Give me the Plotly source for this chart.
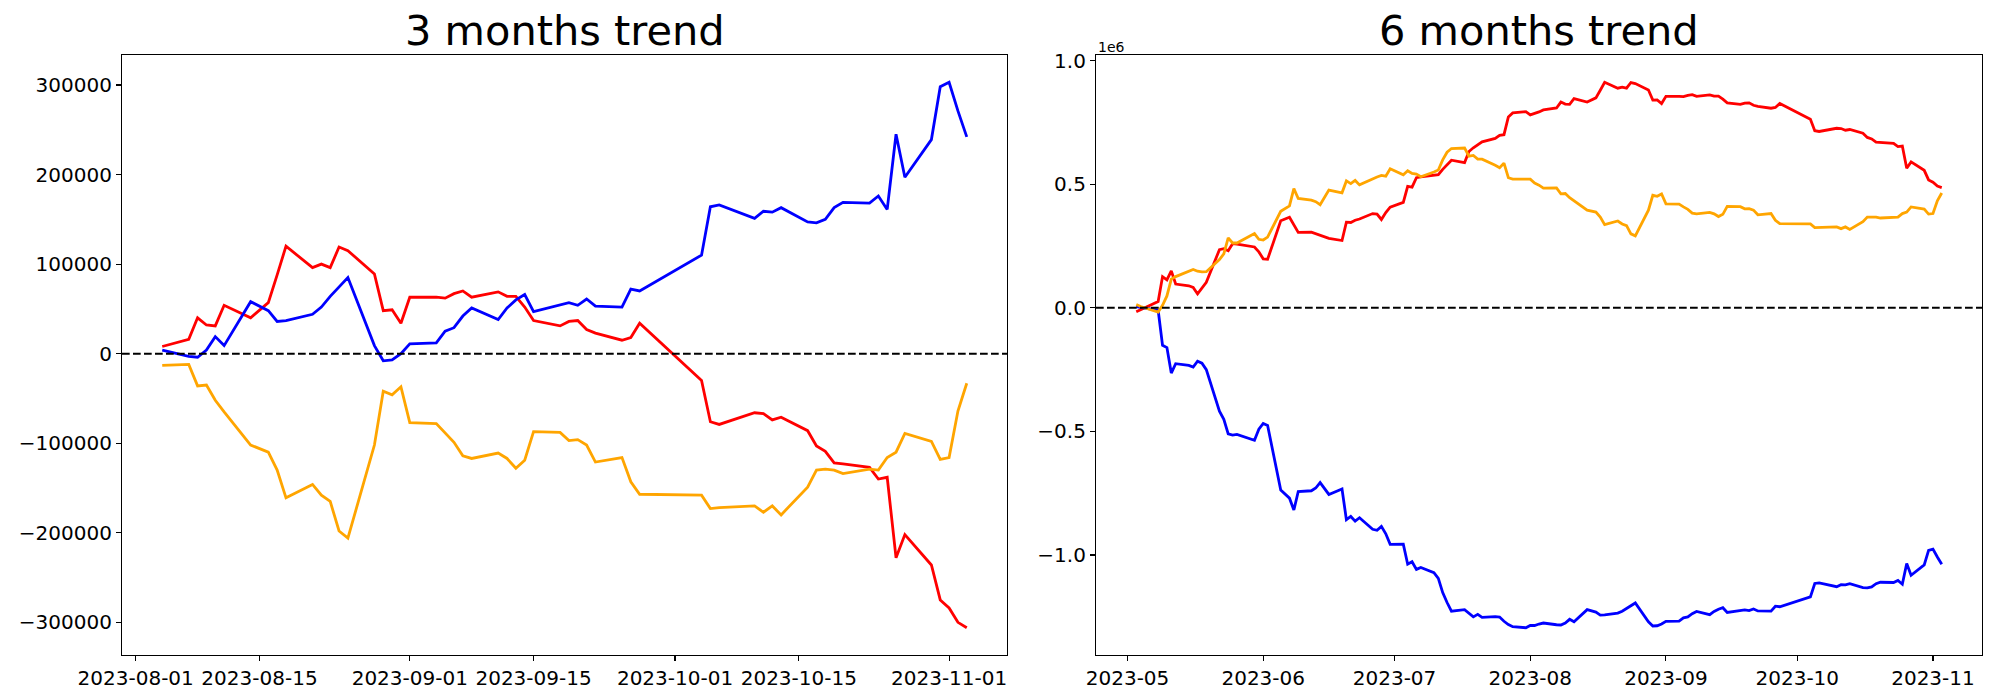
import pandas as pd
import plotly.graph_objects as go

# ---------------- 3 months data ----------------
dates_3m = [
    "2023-08-04", "2023-08-07", "2023-08-08", "2023-08-09", "2023-08-10", "2023-08-11",
    "2023-08-14", "2023-08-16", "2023-08-17", "2023-08-18",
    "2023-08-21", "2023-08-22", "2023-08-23", "2023-08-24", "2023-08-25",
    "2023-08-28", "2023-08-29", "2023-08-30", "2023-08-31", "2023-09-01",
    "2023-09-04", "2023-09-05", "2023-09-06", "2023-09-07", "2023-09-08",
    "2023-09-11", "2023-09-12", "2023-09-13", "2023-09-14", "2023-09-15",
    "2023-09-18", "2023-09-19", "2023-09-20", "2023-09-21", "2023-09-22",
    "2023-09-25", "2023-09-26", "2023-09-27",
    "2023-10-04", "2023-10-05", "2023-10-06",
    "2023-10-10", "2023-10-11", "2023-10-12", "2023-10-13",
    "2023-10-16", "2023-10-17", "2023-10-18", "2023-10-19", "2023-10-20",
    "2023-10-23", "2023-10-24", "2023-10-25", "2023-10-26", "2023-10-27",
    "2023-10-30", "2023-10-31", "2023-11-01", "2023-11-02", "2023-11-03",
]
red_3m = [
    8000, 16000, 40000, 32000, 31000, 54000,
    40000, 57000, 88000, 120000,
    96000, 100000, 96000, 119000, 115000,
    89000, 48000, 49000, 34000, 63000,
    63000, 62000, 67000, 70000, 63000,
    69000, 64000, 64000, 52000, 37000,
    31000, 36000, 37000, 27000, 23000,
    15000, 18000, 34000,
    -30000, -76000, -79000,
    -66000, -67000, -74000, -71000,
    -86000, -103000, -109000, -122000, -123000,
    -127000, -140000, -138000, -228000, -202000,
    -236000, -275000, -284000, -300000, -306000,
]
blue_3m = [
    4000, -3000, -4000, 4000, 19000, 9000,
    58000, 48000, 36000, 37000,
    44000, 52000, 64000, 74000, 85000,
    9000, -8000, -7000, 0, 11000,
    12000, 25000, 29000, 42000, 51000,
    38000, 51000, 60000, 66000, 47000,
    54000, 57000, 54000, 61000, 53000,
    52000, 72000, 70000,
    110000, 164000, 166000,
    151000, 159000, 158000, 163000,
    147000, 146000, 150000, 163000, 169000,
    168000, 176000, 161000, 245000, 197000,
    239000, 298000, 303000, 271000, 242000,
]
orange_3m = [
    -13000, -12000, -36000, -35000, -52000, -65000,
    -102000, -110000, -130000, -161000,
    -146000, -158000, -165000, -198000, -206000,
    -102000, -42000, -46000, -37000, -77000,
    -78000, -89000, -99000, -114000, -117000,
    -111000, -117000, -128000, -119000, -87000,
    -88000, -97000, -96000, -102000, -121000,
    -116000, -143000, -157000,
    -158000, -173000, -172000,
    -170000, -177000, -170000, -180000,
    -149000, -130000, -129000, -130000, -134000,
    -129000, -130000, -116000, -110000, -89000,
    -98000, -118000, -116000, -64000, -33000,
]

# ---------------- 6 months data ----------------
dates_6m = [
    "2023-05-03", "2023-05-04", "2023-05-08", "2023-05-09", "2023-05-10", "2023-05-11", "2023-05-12",
    "2023-05-15", "2023-05-16", "2023-05-17", "2023-05-18", "2023-05-19",
    "2023-05-22", "2023-05-23", "2023-05-24", "2023-05-25", "2023-05-26",
    "2023-05-30", "2023-05-31", "2023-06-01", "2023-06-02",
    "2023-06-05", "2023-06-07", "2023-06-08", "2023-06-09",
    "2023-06-12", "2023-06-13", "2023-06-14", "2023-06-15", "2023-06-16",
    "2023-06-19", "2023-06-20", "2023-06-21", "2023-06-22", "2023-06-23",
    "2023-06-26", "2023-06-27", "2023-06-28", "2023-06-29", "2023-06-30",
    "2023-07-03", "2023-07-04", "2023-07-05", "2023-07-06", "2023-07-07",
    "2023-07-10", "2023-07-11", "2023-07-12", "2023-07-13", "2023-07-14",
    "2023-07-17", "2023-07-18", "2023-07-19", "2023-07-20", "2023-07-21",
    "2023-07-24", "2023-07-25", "2023-07-26", "2023-07-27", "2023-07-28",
    "2023-07-31", "2023-08-01", "2023-08-02", "2023-08-03",
    "2023-08-04", "2023-08-07", "2023-08-08", "2023-08-09", "2023-08-10", "2023-08-11",
    "2023-08-14", "2023-08-16", "2023-08-17", "2023-08-18",
    "2023-08-21", "2023-08-22", "2023-08-23", "2023-08-24", "2023-08-25",
    "2023-08-28", "2023-08-29", "2023-08-30", "2023-08-31", "2023-09-01",
    "2023-09-04", "2023-09-05", "2023-09-06", "2023-09-07", "2023-09-08",
    "2023-09-11", "2023-09-12", "2023-09-13", "2023-09-14", "2023-09-15",
    "2023-09-18", "2023-09-19", "2023-09-20", "2023-09-21", "2023-09-22",
    "2023-09-25", "2023-09-26", "2023-09-27",
    "2023-10-04", "2023-10-05", "2023-10-06",
    "2023-10-10", "2023-10-11", "2023-10-12", "2023-10-13",
    "2023-10-16", "2023-10-17", "2023-10-18", "2023-10-19", "2023-10-20",
    "2023-10-23", "2023-10-24", "2023-10-25", "2023-10-26", "2023-10-27",
    "2023-10-30", "2023-10-31", "2023-11-01", "2023-11-02", "2023-11-03",
]
red_6m = [
    -16000, -8000, 25000, 126000, 113000, 149000, 96000,
    89000, 82000, 56000, 78000, 103000,
    235000, 239000, 231000, 259000, 257000,
    246000, 226000, 198000, 196000,
    352000, 366000, 334000, 305000,
    306000, 300000, 293000, 286000, 281000,
    272000, 346000, 345000, 354000, 359000,
    381000, 379000, 357000, 385000, 407000,
    426000, 491000, 488000, 526000, 529000,
    535000, 538000, 560000, 579000, 597000,
    587000, 632000, 647000, 660000, 671000,
    685000, 697000, 700000, 772000, 788000,
    793000, 780000, 785000, 792000,
    800000, 808000, 832000, 824000, 823000, 846000,
    832000, 849000, 880000, 912000,
    888000, 892000, 888000, 911000, 907000,
    881000, 840000, 841000, 826000, 855000,
    855000, 854000, 859000, 862000, 855000,
    861000, 856000, 856000, 844000, 829000,
    823000, 828000, 829000, 819000, 815000,
    807000, 810000, 826000,
    762000, 716000, 713000,
    726000, 725000, 718000, 721000,
    706000, 689000, 683000, 670000, 669000,
    665000, 652000, 654000, 564000, 590000,
    556000, 517000, 508000, 492000, 486000,
]
blue_6m = [
    5000, 2000, -10000, -152000, -161000, -264000, -226000,
    -233000, -240000, -216000, -224000, -250000,
    -418000, -451000, -510000, -515000, -512000,
    -536000, -491000, -468000, -476000,
    -737000, -770000, -818000, -743000,
    -740000, -729000, -707000, -730000, -755000,
    -733000, -857000, -844000, -863000, -849000,
    -896000, -900000, -884000, -914000, -957000,
    -956000, -1037000, -1027000, -1058000, -1050000,
    -1071000, -1094000, -1152000, -1192000, -1227000,
    -1221000, -1237000, -1250000, -1240000, -1252000,
    -1249000, -1251000, -1268000, -1281000, -1290000,
    -1294000, -1285000, -1285000, -1279000,
    -1275000, -1282000, -1283000, -1275000, -1260000, -1270000,
    -1221000, -1231000, -1243000, -1242000,
    -1235000, -1227000, -1215000, -1205000, -1194000,
    -1270000, -1287000, -1286000, -1279000, -1268000,
    -1267000, -1254000, -1250000, -1237000, -1228000,
    -1241000, -1228000, -1219000, -1213000, -1232000,
    -1225000, -1222000, -1225000, -1218000, -1226000,
    -1227000, -1207000, -1209000,
    -1169000, -1115000, -1113000,
    -1128000, -1120000, -1121000, -1116000,
    -1132000, -1133000, -1129000, -1116000, -1110000,
    -1111000, -1103000, -1118000, -1034000, -1082000,
    -1040000, -981000, -976000, -1008000, -1037000,
]
orange_6m = [
    13000, 5000, -17000, 10000, 48000, 116000, 126000,
    147000, 155000, 148000, 145000, 146000,
    195000, 218000, 283000, 262000, 262000,
    300000, 277000, 274000, 286000,
    390000, 412000, 482000, 442000,
    435000, 429000, 417000, 448000, 476000,
    465000, 513000, 502000, 515000, 497000,
    523000, 529000, 535000, 532000, 562000,
    538000, 554000, 543000, 541000, 530000,
    549000, 557000, 598000, 629000, 644000,
    646000, 613000, 616000, 601000, 601000,
    576000, 566000, 585000, 526000, 520000,
    518000, 520000, 504000, 496000,
    484000, 485000, 461000, 462000, 445000, 432000,
    395000, 387000, 367000, 336000,
    351000, 339000, 332000, 299000, 291000,
    395000, 455000, 451000, 460000, 420000,
    419000, 408000, 398000, 383000, 380000,
    386000, 380000, 369000, 378000, 410000,
    409000, 400000, 401000, 395000, 376000,
    381000, 354000, 340000,
    339000, 324000, 325000,
    327000, 320000, 327000, 317000,
    348000, 367000, 368000, 367000, 363000,
    368000, 367000, 381000, 387000, 408000,
    399000, 379000, 381000, 433000, 464000,
]

# ---------------- ticks / labels ----------------
titles = ["3 months trend", "6 months trend"]
x1_tickvals = ["2023-08-01", "2023-08-15", "2023-09-01", "2023-09-15", "2023-10-01", "2023-10-15", "2023-11-01"]
x1_ticktext = ["2023-08-01", "2023-08-15", "2023-09-01", "2023-09-15", "2023-10-01", "2023-10-15", "2023-11-01"]
y1_tickvals = [-300000, -200000, -100000, 0, 100000, 200000, 300000]
y1_ticktext = ["\u2212300000", "\u2212200000", "\u2212100000", "0", "100000", "200000", "300000"]
x2_tickvals = ["2023-05-01", "2023-06-01", "2023-07-01", "2023-08-01", "2023-09-01", "2023-10-01", "2023-11-01"]
x2_ticktext = ["2023-05", "2023-06", "2023-07", "2023-08", "2023-09", "2023-10", "2023-11"]
y2_tickvals = [-1000000, -500000, 0, 500000, 1000000]
y2_ticktext = ["\u22121.0", "\u22120.5", "0.0", "0.5", "1.0"]
offset_text = "1e6"

FONT = "DejaVu Sans"
LW = 2.8


def date_range(ds):
    t = pd.to_datetime(ds)
    lo, hi = t.min(), t.max()
    m = (hi - lo) * 0.05
    return [(lo - m).strftime("%Y-%m-%d %H:%M:%S"), (hi + m).strftime("%Y-%m-%d %H:%M:%S")]


def val_range(*series):
    allv = [v for s in series for v in s]
    lo, hi = min(allv), max(allv)
    m = (hi - lo) * 0.05
    return [lo - m, hi + m]


fig = go.Figure()
for xa, ya, d, series in [
    ("x", "y", dates_3m, [(red_3m, "red"), (blue_3m, "blue"), (orange_3m, "orange")]),
    ("x2", "y2", dates_6m, [(red_6m, "red"), (blue_6m, "blue"), (orange_6m, "orange")]),
]:
    for vals, col in series:
        fig.add_trace(go.Scatter(x=d, y=vals, mode="lines", xaxis=xa, yaxis=ya,
                                 line=dict(color=col, width=LW), showlegend=False,
                                 hoverinfo="skip"))

axis_common = dict(showline=True, mirror=True, linecolor="black", linewidth=1.1,
                   ticks="outside", ticklen=5, tickwidth=1.1, tickcolor="black",
                   showgrid=False, zeroline=False, tickmode="array", automargin=False,
                   tickfont=dict(family=FONT, size=20, color="black"))

fig.update_layout(
    width=2000, height=700,
    margin=dict(l=0, r=0, t=55, b=45, autoexpand=False),
    paper_bgcolor="white", plot_bgcolor="white",
    font=dict(family=FONT, color="black"),
    xaxis=dict(domain=[0.061, 0.5035], range=date_range(dates_3m), type="date",
               tickvals=x1_tickvals, ticktext=x1_ticktext, anchor="y", **axis_common),
    yaxis=dict(range=val_range(red_3m, blue_3m, orange_3m), anchor="x",
               tickvals=y1_tickvals, ticktext=y1_ticktext, **axis_common),
    xaxis2=dict(domain=[0.548, 0.991], range=date_range(dates_6m), type="date",
                tickvals=x2_tickvals, ticktext=x2_ticktext, anchor="y2", **axis_common),
    yaxis2=dict(range=val_range(red_6m, blue_6m, orange_6m), anchor="x2",
                tickvals=y2_tickvals, ticktext=y2_ticktext, **axis_common),
)

for xa, ya in [("x", "y"), ("x2", "y2")]:
    fig.add_shape(type="line", xref=f"{xa} domain", x0=0, x1=1, yref=ya, y0=0, y1=0,
                  line=dict(color="black", width=2, dash="7.7px,3.3px"), layer="above")

for i, (xa, ya) in enumerate([("x", "y"), ("x2", "y2")]):
    fig.add_annotation(text=titles[i], xref=f"{xa} domain", yref=f"{ya} domain",
                       x=0.5, y=1, xanchor="center", yanchor="bottom", yshift=-2,
                       showarrow=False, font=dict(family=FONT, size=41.5, color="black"))

fig.add_annotation(text=offset_text, xref="x2 domain", yref="y2 domain", x=0, y=1,
                   xanchor="left", yanchor="bottom", showarrow=False, yshift=-2,
                   font=dict(family=FONT, size=14, color="black"))

fig.write_html("out.html",
               config={"displayModeBar": False, "staticPlot": True},
               post_script="document.body.style.margin='0px';document.body.style.overflow='hidden';")
